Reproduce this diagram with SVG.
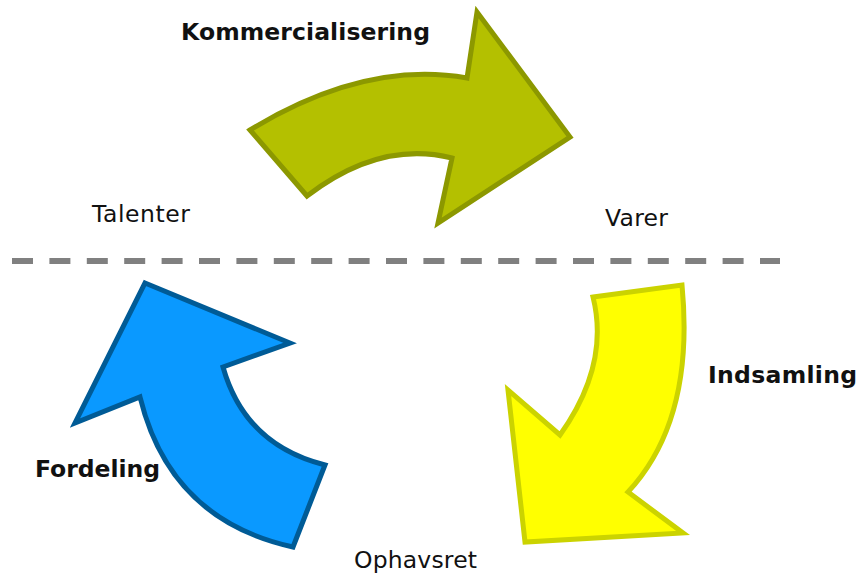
<svg xmlns="http://www.w3.org/2000/svg" width="859" height="575" viewBox="0 0 859 575">
<style>
.lbl{font-family:"DejaVu Sans",Verdana,sans-serif;font-size:23.5px;fill:#111}
.b{font-weight:bold}
.arr{stroke-width:5;stroke-linejoin:miter}
</style>
<rect width="859" height="575" fill="#fff"/>
<g id="connectors">
<line x1="12" y1="261" x2="780" y2="261" stroke="#808080" stroke-width="6" stroke-dasharray="21 16.4"/>
</g>
<g id="kommercialisering">
<path class="arr" d="M250,130 Q365,60 467,78 L477,12 L570,137 L438,223 L452,158 Q380,140 307,196 Z" fill="#b4c000" stroke="#8c9800"/>
<text class="lbl b" x="181" y="40" textLength="249" lengthAdjust="spacing">Kommercialisering</text>
</g>
<g id="indsamling">
<path class="arr" d="M593,297 L682,285 Q695,420 628,492 L683,533 L525,542 L508,390 L560,435 Q610,365 593,297 Z" fill="#ffff00" stroke="#cbd300"/>
<text class="lbl b" x="708" y="383" textLength="149" lengthAdjust="spacing">Indsamling</text>
</g>
<g id="fordeling">
<path class="arr" d="M145,283 L290,343 L223,367 Q245,445 325,465 L293,547 Q170,520 140,397 L75,423 Z" fill="#0a99ff" stroke="#005b96"/>
<text class="lbl b" x="35" y="477" textLength="125" lengthAdjust="spacing">Fordeling</text>
</g>
<g id="talenter"><text class="lbl" x="92" y="222" textLength="98" lengthAdjust="spacing">Talenter</text></g>
<g id="varer"><text class="lbl" x="605" y="226" textLength="63" lengthAdjust="spacing">Varer</text></g>
<g id="ophavsret"><text class="lbl" x="354" y="568" textLength="123" lengthAdjust="spacing">Ophavsret</text></g>
</svg>
